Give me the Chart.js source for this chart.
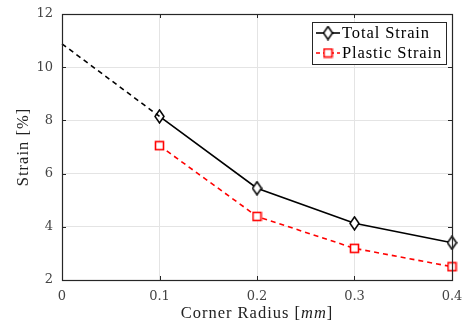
<!DOCTYPE html>
<html>
<head>
<meta charset="utf-8">
<script src="https://cdn.jsdelivr.net/npm/chart.js@4"></script>
<style>
html, body { margin: 0; padding: 0; background: #fff; }
#wrap { width: 463px; height: 327px; position: relative; }
</style>
</head>
<body>
<div id="wrap"><canvas id="c"></canvas></div>
<script>
// values
const radius = [0.1, 0.2, 0.3, 0.4];
const totalStrain = [8.15, 5.45, 4.13, 3.4];
const plasticStrain = [7.05, 4.39, 3.19, 2.5];
const extrapX = [0, 0.1];
const extrapY = [10.88, 8.15];
const xTicks = [0, 0.1, 0.2, 0.3, 0.4];
const yTicks = [2, 4, 6, 8, 10, 12];
const seriesNames = ['Total Strain', 'Plastic Strain'];

const axisColor = '#262626';
const serif = '"Liberation Serif", "DejaVu Serif", serif';
const tickFont = { family: '"DejaVu Serif", serif', size: 13 };

// hollow diamond marker, taller than wide like matlab
function diamondMarker() {
    const w = 11, h = 15;
    const c = document.createElement('canvas');
    c.width = w; c.height = h;
    const ctx = c.getContext('2d');
    ctx.beginPath();
    ctx.moveTo(w / 2, 1);
    ctx.lineTo(w - 1, h / 2);
    ctx.lineTo(w / 2, h - 1);
    ctx.lineTo(1, h / 2);
    ctx.closePath();
    ctx.fillStyle = '#fff';
    ctx.fill();
    ctx.strokeStyle = '#000';
    ctx.lineWidth = 1.5;
    ctx.stroke();
    return c;
}
function squareMarker() {
    const s = 11;
    const c = document.createElement('canvas');
    c.width = s; c.height = s;
    const ctx = c.getContext('2d');
    ctx.fillStyle = '#fff';
    ctx.fillRect(1.5, 1.5, s - 3, s - 3);
    ctx.strokeStyle = '#ff0000';
    ctx.lineWidth = 1.6;
    ctx.strokeRect(1.5, 1.5, s - 3, s - 3);
    return c;
}
const diamond = diamondMarker();
const square = squareMarker();

const toXY = (xs, ys) => xs.map((x, i) => ({ x: x, y: ys[i] }));

// box, inner ticks, axis titles and legend
const decor = {
    id: 'decor',
    afterDatasetsDraw(chart) {
        const ctx = chart.ctx;
        const a = chart.chartArea;
        const xs = chart.scales.x, ys = chart.scales.y;
        ctx.save();
        ctx.strokeStyle = axisColor;
        ctx.lineWidth = 1;
        ctx.beginPath();
        xTicks.forEach(t => {
            const px = Math.round(xs.getPixelForValue(t)) + 0.5;
            ctx.moveTo(px, a.bottom); ctx.lineTo(px, a.bottom - 4);
            ctx.moveTo(px, a.top); ctx.lineTo(px, a.top + 4);
        });
        yTicks.forEach(t => {
            const py = Math.round(ys.getPixelForValue(t)) + 0.5;
            ctx.moveTo(a.left, py); ctx.lineTo(a.left + 4, py);
            ctx.moveTo(a.right, py); ctx.lineTo(a.right - 4, py);
        });
        ctx.stroke();
        ctx.lineWidth = 1.2;
        ctx.strokeRect(Math.round(a.left) + 0.5, Math.round(a.top) + 0.5,
            Math.round(a.right - a.left), Math.round(a.bottom - a.top));
        ctx.restore();
    },
    afterDraw(chart) {
        const ctx = chart.ctx;
        const a = chart.chartArea;
        ctx.save();
        ctx.fillStyle = '#222';
        ctx.textBaseline = 'middle';
        ctx.letterSpacing = '1px';

        // x title with italic unit
        const parts = [['Corner Radius [', '16.5px ' + serif], ['mm', 'italic 16.5px ' + serif], [']', '16.5px ' + serif]];
        let total = 0;
        parts.forEach(p => { ctx.font = p[1]; total += ctx.measureText(p[0]).width; });
        let x = (a.left + a.right) / 2 - total / 2;
        ctx.textAlign = 'left';
        parts.forEach(p => { ctx.font = p[1]; ctx.fillText(p[0], x, 314); x += ctx.measureText(p[0]).width; });

        // y title
        ctx.translate(24, (a.top + a.bottom) / 2);
        ctx.rotate(-Math.PI / 2);
        ctx.font = '16.5px ' + serif;
        ctx.textAlign = 'center';
        ctx.fillText('Strain [%]', 0, 0);
        ctx.restore();

        // legend
        ctx.save();
        const bx = 312.5, by = 22.5, bw = 134, bh = 42;
        ctx.fillStyle = '#fff';
        ctx.fillRect(bx, by, bw, bh);
        ctx.strokeStyle = axisColor;
        ctx.lineWidth = 1;
        ctx.strokeRect(bx, by, bw, bh);
        const rows = [
            { y: 33, color: '#000', dash: [], marker: diamond },
            { y: 53, color: '#ff0000', dash: [4, 3], marker: square }
        ];
        rows.forEach((r, i) => {
            ctx.strokeStyle = r.color;
            ctx.lineWidth = 1.6;
            ctx.setLineDash(r.dash);
            ctx.beginPath();
            ctx.moveTo(316, r.y); ctx.lineTo(340, r.y);
            ctx.stroke();
            ctx.setLineDash([]);
            ctx.drawImage(r.marker, 328 - r.marker.width / 2, r.y - r.marker.height / 2);
            ctx.fillStyle = '#000';
            ctx.font = '16.5px ' + serif;
            ctx.letterSpacing = '0.9px';
            ctx.textAlign = 'left';
            ctx.textBaseline = 'middle';
            ctx.fillText(seriesNames[i], 342, r.y + 1);
        });
        ctx.restore();
    }
};

new Chart(document.getElementById('c'), {
    type: 'line',
    data: {
        datasets: [
            {
                label: 'extrapolation',
                data: toXY(extrapX, extrapY),
                borderColor: '#000',
                borderWidth: 1.6,
                borderDash: [5, 4],
                pointRadius: 0,
                tension: 0,
                clip: false
            },
            {
                label: seriesNames[0],
                data: toXY(radius, totalStrain),
                borderColor: '#000',
                borderWidth: 1.6,
                pointStyle: diamond,
                pointRadius: 6,
                tension: 0,
                clip: false
            },
            {
                label: seriesNames[1],
                data: toXY(radius, plasticStrain),
                borderColor: '#ff0000',
                borderWidth: 1.6,
                borderDash: [5, 4],
                pointStyle: square,
                pointRadius: 5,
                tension: 0,
                clip: false
            }
        ]
    },
    options: {
        responsive: true,
        maintainAspectRatio: false,
        animation: false,
        layout: { padding: { left: 0, right: 11, top: 14, bottom: 0 } },
        plugins: {
            legend: { display: false },
            tooltip: { enabled: false }
        },
        scales: {
            x: {
                type: 'linear',
                min: 0,
                max: 0.4,
                afterBuildTicks: s => { s.ticks = xTicks.map(v => ({ value: v })); },
                afterFit: s => { s.height = 47; s.paddingLeft = 0; s.paddingRight = 0; },
                grid: { color: '#e4e4e4', drawTicks: false },
                border: { display: false },
                ticks: {
                    padding: 9,
                    color: '#444',
                    font: tickFont,
                    maxRotation: 0,
                    callback: v => String(v)
                }
            },
            y: {
                min: 2,
                max: 12,
                afterBuildTicks: s => { s.ticks = yTicks.map(v => ({ value: v })); },
                afterFit: s => { s.width = 62; s.paddingTop = 0; s.paddingBottom = 0; },
                grid: { color: '#e4e4e4', drawTicks: false },
                border: { display: false },
                ticks: {
                    padding: 9,
                    color: '#444',
                    font: tickFont
                }
            }
        }
    },
    plugins: [decor]
});
</script>
</body>
</html>
